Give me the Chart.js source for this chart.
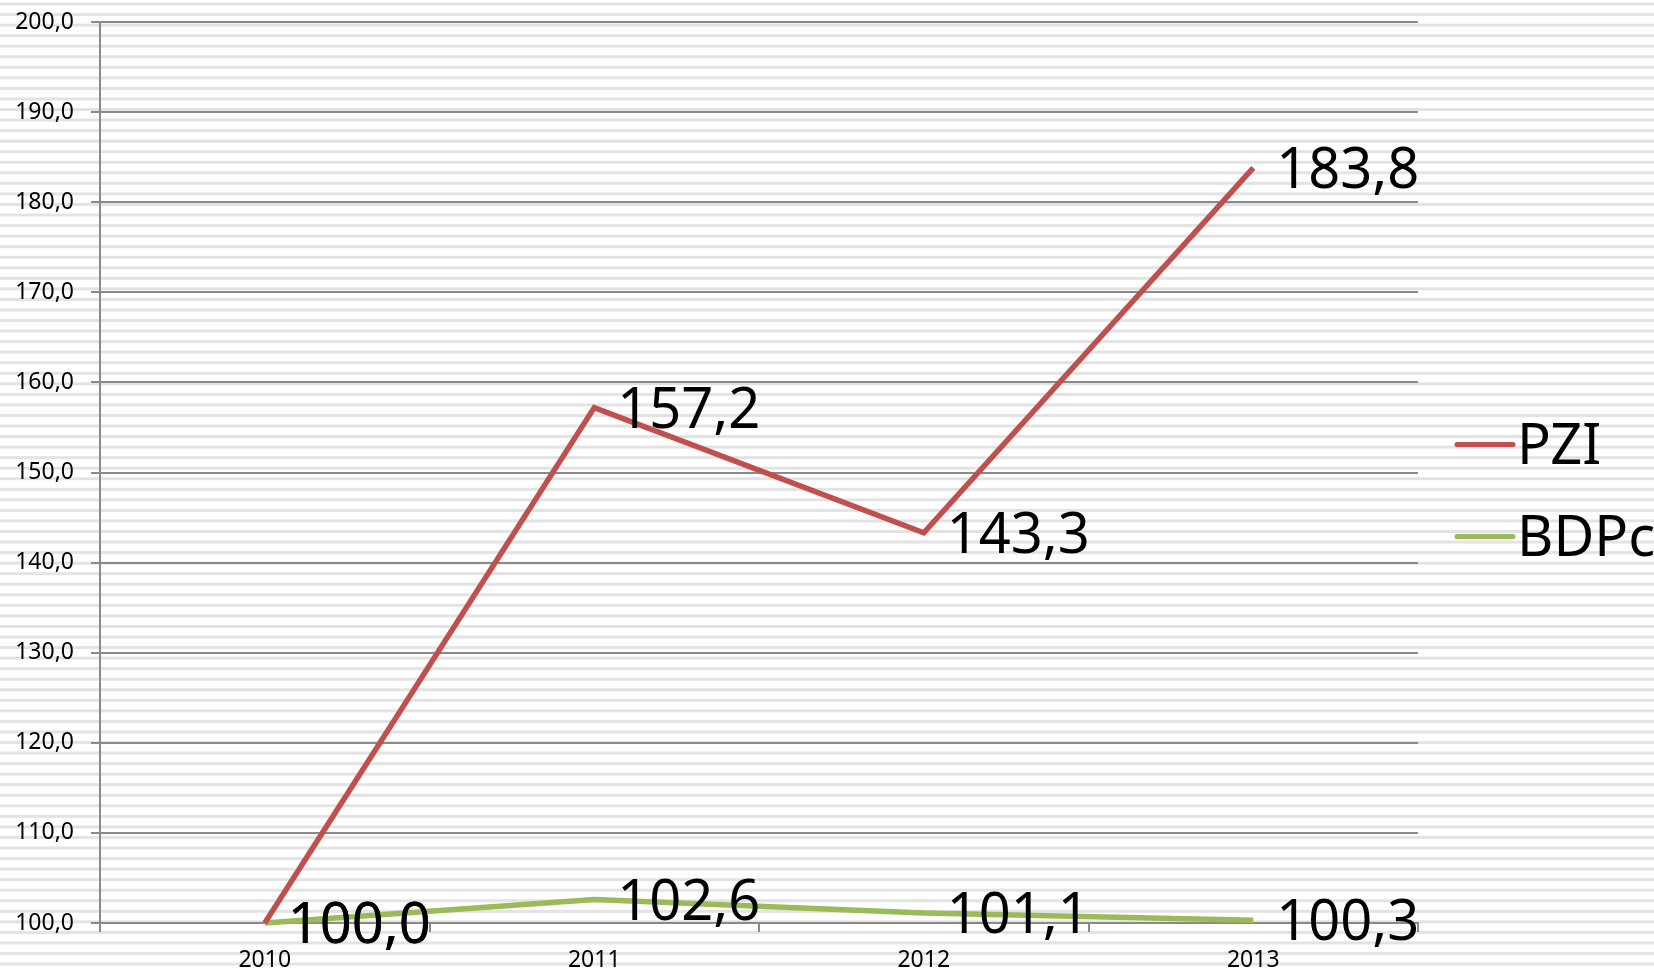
<!DOCTYPE html>
<html>
<head>
<meta charset="utf-8">
<title>PZI / BDPc</title>
<script src="https://cdn.jsdelivr.net/npm/chart.js@4/dist/chart.umd.min.js"></script>
<style>
  html, body { margin: 0; padding: 0; background: #fff; }
  #wrap { width: 1654px; height: 970px; }
</style>
</head>
<body>
<div id="wrap"><canvas id="chart" width="1654" height="970"></canvas></div>
<script>
  // dane z wykresu
  var LATA = ['2010', '2011', '2012', '2013'];
  var PZI = [100.0, 157.2, 143.3, 183.8];
  var BDPC = [100.0, 102.6, 101.1, 100.3];
  var SERIE_NAZWY = ['PZI', 'BDPc'];
  var OS_Y_MIN = 100;
  var OS_Y_MAX = 200;
  var OS_Y_KROK = 10;

  var KOLOR_PZI = '#C0504D';
  var KOLOR_BDPC = '#9BBB59';
  var KOLOR_OSI = '#8a8a8a';
  var FONT = '"Noto Sans", "Open Sans", sans-serif';
  var ROZMIAR_ETYKIET = 56;

  function fmt(v) {
    return v.toFixed(1).replace('.', ',');
  }

  // tlo w poziome paski
  var tloPaski = {
    id: 'tloPaski',
    beforeDraw: function (chart) {
      var ctx = chart.ctx;
      ctx.save();
      ctx.fillStyle = '#ffffff';
      ctx.fillRect(0, 0, chart.width, chart.height);
      ctx.fillStyle = '#e3e3e3';
      for (var y = 4; y < chart.height + 5; y += 10.55) {
        ctx.fillRect(0, y - 1.5, chart.width, 3);
      }
      ctx.restore();
    }
  };

  // etykiety wartosci na prawo od punktow
  var etykiety = {
    id: 'etykiety',
    afterDatasetsDraw: function (chart) {
      var ctx = chart.ctx;
      var size = ROZMIAR_ETYKIET;
      ctx.save();
      ctx.font = size + 'px ' + FONT;
      ctx.fillStyle = '#000';
      ctx.textAlign = 'left';
      ctx.textBaseline = 'alphabetic';
      chart.data.datasets.forEach(function (ds, i) {
        var meta = chart.getDatasetMeta(i);
        meta.data.forEach(function (pt, j) {
          ctx.fillText(fmt(ds.data[j]), pt.x + 23, pt.y + size * 0.357);
        });
      });
      ctx.restore();
    }
  };

  // legenda po prawej
  var legenda = {
    id: 'legenda',
    afterDraw: function (chart) {
      var ctx = chart.ctx;
      var area = chart.chartArea;
      var size = ROZMIAR_ETYKIET;
      var x0 = area.right + 39;
      var yMid = (area.top + area.bottom) / 2 + 18;
      var krok = 92;
      ctx.save();
      ctx.font = size + 'px ' + FONT;
      ctx.textAlign = 'left';
      ctx.textBaseline = 'alphabetic';
      chart.data.datasets.forEach(function (ds, i) {
        var y = yMid + (i - 0.5) * krok;
        ctx.strokeStyle = ds.borderColor;
        ctx.lineWidth = 5;
        ctx.lineCap = 'round';
        ctx.beginPath();
        ctx.moveTo(x0, y);
        ctx.lineTo(x0 + 56, y);
        ctx.stroke();
        ctx.fillStyle = '#000';
        ctx.fillText(ds.label, x0 + 60, y + size * 0.357);
      });
      ctx.restore();
    }
  };

  var ctx = document.getElementById('chart').getContext('2d');
  new Chart(ctx, {
    type: 'line',
    data: {
      labels: LATA,
      datasets: [
        {
          label: SERIE_NAZWY[0],
          data: PZI,
          borderColor: KOLOR_PZI,
          backgroundColor: KOLOR_PZI,
          borderWidth: 5.5,
          pointRadius: 0,
          tension: 0,
          clip: false
        },
        {
          label: SERIE_NAZWY[1],
          data: BDPC,
          borderColor: KOLOR_BDPC,
          backgroundColor: KOLOR_BDPC,
          borderWidth: 5.5,
          pointRadius: 0,
          tension: 0,
          clip: false
        }
      ]
    },
    options: {
      responsive: false,
      animation: false,
      layout: { padding: { top: 22, right: 236, left: 0, bottom: 0 } },
      plugins: {
        legend: { display: false },
        tooltip: { enabled: false }
      },
      scales: {
        x: {
          type: 'category',
          offset: true,
          grid: {
            offset: true,
            drawOnChartArea: false,
            drawTicks: true,
            tickLength: 9,
            color: KOLOR_OSI,
            lineWidth: 2
          },
          border: { display: true, color: KOLOR_OSI, width: 2 },
          ticks: {
            color: '#000',
            font: { family: FONT, size: 23 },
            padding: 15,
            maxRotation: 0
          },
          afterFit: function (scale) { scale.height = 47; }
        },
        y: {
          min: OS_Y_MIN,
          max: OS_Y_MAX,
          grid: {
            color: KOLOR_OSI,
            lineWidth: 2,
            tickLength: 9
          },
          border: { display: true, color: KOLOR_OSI, width: 2 },
          ticks: {
            stepSize: OS_Y_KROK,
            color: '#000',
            font: { family: FONT, size: 23 },
            padding: 17,
            callback: function (v) { return fmt(v); }
          },
          afterFit: function (scale) {
            scale.width = 100;
            scale.paddingTop = 0;
            scale.paddingBottom = 0;
          }
        }
      }
    },
    plugins: [tloPaski, etykiety, legenda]
  });
</script>
</body>
</html>
